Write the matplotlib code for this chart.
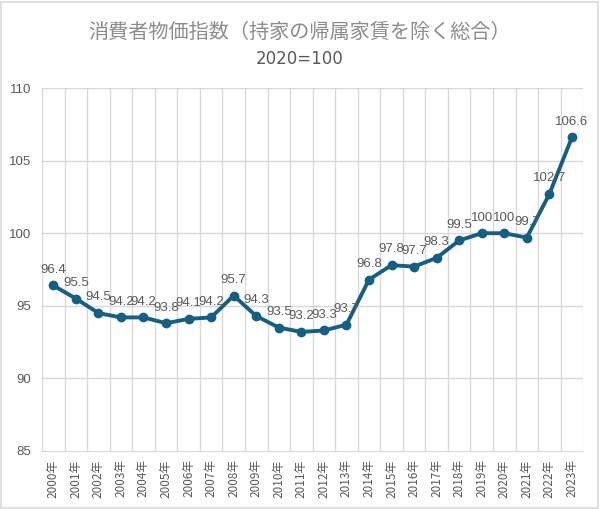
import numpy as np
import matplotlib
matplotlib.use("Agg")
import matplotlib.pyplot as plt

plt.rcParams['font.family'] = ['Noto Sans CJK JP', 'DejaVu Sans']

# Données
annees = [f"{a}年" for a in range(2000, 2024)]
valeurs = [96.4, 95.5, 94.5, 94.2, 94.2, 93.8, 94.1, 94.2, 95.7, 94.3,
           93.5, 93.2, 93.3, 93.7, 96.8, 97.8, 97.7, 98.3, 99.5, 100,
           100, 99.7, 102.7, 106.6]
etiquettes = ["96.4", "95.5", "94.5", "94.2", "94.2", "93.8", "94.1", "94.2", "95.7", "94.3",
              "93.5", "93.2", "93.3", "93.7", "96.8", "97.8", "97.7", "98.3", "99.5", "100",
              "100", "99.7", "102.7", "106.6"]
titre = "消費者物価指数（持家の帰属家賃を除く総合）"
sous_titre = "2020=100"

couleur = "#156082"
gris_grille = "#D9D9D9"
police_chiffres = ["Liberation Sans", "DejaVu Sans"]

fig = plt.figure(figsize=(6.0, 5.09), dpi=100)
ax = fig.add_axes([0.07, 0.114, 0.902, 0.713])

x = np.arange(len(valeurs))
ax.plot(x, valeurs, color=couleur, lw=2.8, marker="o", ms=6, zorder=3)

for xi, v, t in zip(x, valeurs, etiquettes):
    ax.annotate(t, (xi, v), xytext=(0, 7), textcoords="offset points",
                ha="center", va="bottom", fontsize=9.5, color="#595959",
                family=police_chiffres)

ax.set_xlim(-0.5, len(valeurs) - 0.5)
ax.set_ylim(85, 110)
ax.set_yticks([85, 90, 95, 100, 105, 110])
ax.set_xticks(x)
ax.set_xticklabels(annees, rotation=90, fontsize=8.5, color="#595959")
for lab in ax.get_yticklabels():
    lab.set_family(police_chiffres)
ax.tick_params(axis="y", labelsize=9.5, labelcolor="#595959", length=0, pad=8)
ax.tick_params(axis="x", length=0, pad=6)

# Grille
for yv in [90, 95, 100, 105, 110]:
    ax.axhline(yv, color=gris_grille, lw=1, zorder=1)
for xv in np.arange(-0.5, len(valeurs), 1.0):
    ax.axvline(xv, color=gris_grille, lw=1, zorder=1)

for s in ["top", "right", "left"]:
    ax.spines[s].set_visible(False)
ax.spines["bottom"].set_color(gris_grille)

fig.text(0.5, 0.937, titre, ha="center", va="center", fontsize=14.5, color="#8C8C8C")
fig.text(0.5, 0.885, sous_titre, ha="center", va="center", fontsize=12, color="#595959",
         family=["DejaVu Sans"])

# Cadre extérieur
fig.patches.append(plt.Rectangle((0.002, 0.002), 0.994, 0.994, transform=fig.transFigure,
                                 fill=False, edgecolor=gris_grille, lw=1.2))

fig.savefig("out.png", dpi=100, facecolor="white")
